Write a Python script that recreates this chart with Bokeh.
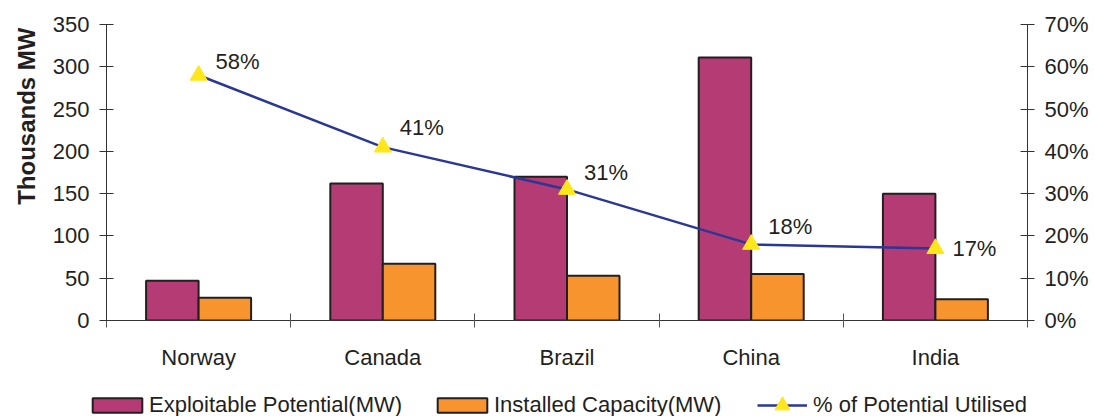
from bokeh.plotting import figure
from bokeh.models import (Range1d, LinearAxis, FixedTicker, NumeralTickFormatter,
                          ColumnDataSource, Title, Legend)
from bokeh.core.properties import value
from bokeh.embed import file_html
from bokeh.resources import INLINE

categories = ["Norway", "Canada", "Brazil", "China", "India"]
exploitable = [47, 162, 170, 311, 150]
installed = [27, 67, 53, 55, 25]
utilised = [0.58, 0.41, 0.31, 0.18, 0.17]
utilised_labels = ["58%", "41%", "31%", "18%", "17%"]
left_ticks = [0, 50, 100, 150, 200, 250, 300, 350]
right_ticks = [0.0, 0.1, 0.2, 0.3, 0.4, 0.5, 0.6, 0.7]
series_names = ["Exploitable Potential(MW)", "Installed Capacity(MW)",
                "% of Potential Utilised"]

# layout-only (pixel offsets of data labels)
label_dy = [-14, -20, -17, -18, 0]

FONT = "Liberation Sans"
TXT = "#231F20"
EDGE = "#231F20"
PURPLE = "#B53B74"
ORANGE = "#F7942E"
NAVY = "#2B3794"
YELLOW = "#FFE71A"

n = len(categories)
centers = [i + 0.5 for i in range(n)]
bounds = [i for i in range(n + 1)]
bw = 0.285

p = figure(width=1095, height=384, output_backend="svg", toolbar_location=None,
           x_range=Range1d(0, n), y_range=Range1d(0, 350),
           min_border_left=105, min_border_right=68, min_border_top=24,
           min_border_bottom=64, x_axis_type="linear")
p.xgrid.visible = False
p.ygrid.visible = False
p.outline_line_color = None

src = ColumnDataSource(dict(
    xc=centers,
    xe=[c - bw / 2 for c in centers],
    xi=[c + bw / 2 for c in centers],
    exploitable=exploitable, installed=installed,
    pct=utilised, lab=utilised_labels, dy=label_dy))

p.vbar(x="xe", top="exploitable", width=bw, source=src, fill_color=PURPLE,
       line_color=EDGE, line_width=2)
p.vbar(x="xi", top="installed", width=bw, source=src, fill_color=ORANGE,
       line_color=EDGE, line_width=2)

p.extra_y_ranges = {"pct": Range1d(0, 0.7)}
p.line(x="xc", y="pct", source=src, y_range_name="pct", line_color=NAVY,
       line_width=2.5)
p.scatter(x="xc", y="pct", source=src, y_range_name="pct", marker="triangle",
          size=17, fill_color=YELLOW, line_color=YELLOW)
p.text(x="xc", y="pct", text="lab", source=src, y_range_name="pct",
       x_offset=17, y_offset="dy", text_align="left", text_baseline="middle",
       text_font=value(FONT), text_font_size="22px", text_color=TXT)

# x axis: labels at centres, ticks at category boundaries
xa = p.xaxis[0]
xa.ticker = FixedTicker(ticks=centers, minor_ticks=bounds)
xa.major_label_overrides = {c: name for c, name in zip(centers, categories)}
xa.major_tick_in = 0
xa.major_tick_out = 0
xa.minor_tick_in = 7
xa.minor_tick_out = 7
xa.minor_tick_line_color = "#555555"
xa.axis_line_color = "#333333"
xa.major_label_standoff = 17
xa.major_label_text_font = FONT
xa.major_label_text_font_size = "22px"
xa.major_label_text_color = TXT

ya = p.yaxis[0]
ya.ticker = FixedTicker(ticks=left_ticks)
ya.major_tick_in = 7
ya.major_tick_out = 7
ya.minor_tick_line_color = None
ya.axis_line_color = "#333333"
ya.major_tick_line_color = "#333333"
ya.major_label_standoff = 10
ya.major_label_text_font = FONT
ya.major_label_text_font_size = "22px"
ya.major_label_text_color = TXT

ra = LinearAxis(y_range_name="pct", ticker=FixedTicker(ticks=right_ticks),
                formatter=NumeralTickFormatter(format="0%"))
ra.major_tick_in = 7
ra.major_tick_out = 7
ra.minor_tick_line_color = None
ra.axis_line_color = "#333333"
ra.major_tick_line_color = "#333333"
ra.major_label_standoff = 10
ra.major_label_text_font = FONT
ra.major_label_text_font_size = "22px"
ra.major_label_text_color = TXT
p.add_layout(ra, "right")

t = Title(text="Thousands MW", align="right", text_font=FONT, standoff=20,
          offset=3, text_font_size="24px", text_font_style="bold", text_color=TXT)
p.add_layout(t, "left")

# ---- legend strip: separate root, hidden renderers supply the swatches ----
lp = figure(width=1095, height=32, output_backend="svg", toolbar_location=None,
            x_axis_location=None, y_axis_location=None, min_border=0,
            x_range=Range1d(0, n), y_range=Range1d(0, 350))
lp.xgrid.visible = False
lp.ygrid.visible = False
lp.outline_line_color = None
g1 = lp.vbar(x="xe", top="exploitable", width=bw, source=src, fill_color=PURPLE,
             line_color=EDGE, line_width=2, visible=False)
g2 = lp.vbar(x="xi", top="installed", width=bw, source=src, fill_color=ORANGE,
             line_color=EDGE, line_width=2, visible=False)
g3 = lp.line(x="xc", y="pct", source=src, line_color=NAVY, line_width=2.5,
             visible=False)
g4 = lp.scatter(x="xc", y="pct", source=src, marker="triangle",
                fill_color=YELLOW, line_color=YELLOW, visible=False)


def make_legend(label, rends, loc, gw, gh, standoff):
    lg = Legend(items=[(label, rends)], location=loc, orientation="horizontal")
    lg.border_line_color = None
    lg.background_fill_alpha = 0
    lg.inactive_fill_alpha = 0
    lg.padding = 0
    lg.margin = 0
    lg.label_standoff = standoff
    lg.glyph_width = gw
    lg.glyph_height = gh
    lg.label_height = gh
    lg.label_text_font = FONT
    lg.label_text_font_size = "22px"
    lg.label_text_color = TXT
    lg.label_text_baseline = "middle"
    lp.add_layout(lg, "center")


make_legend(series_names[0], [g1], (86, -2), 62, 18, 1)
make_legend(series_names[1], [g2], (431, -2), 62, 18, 1)
make_legend(series_names[2], [g3, g4], (757, -8), 50, 38, 6)

open("out.html", "w").write(file_html([p, lp], INLINE))
